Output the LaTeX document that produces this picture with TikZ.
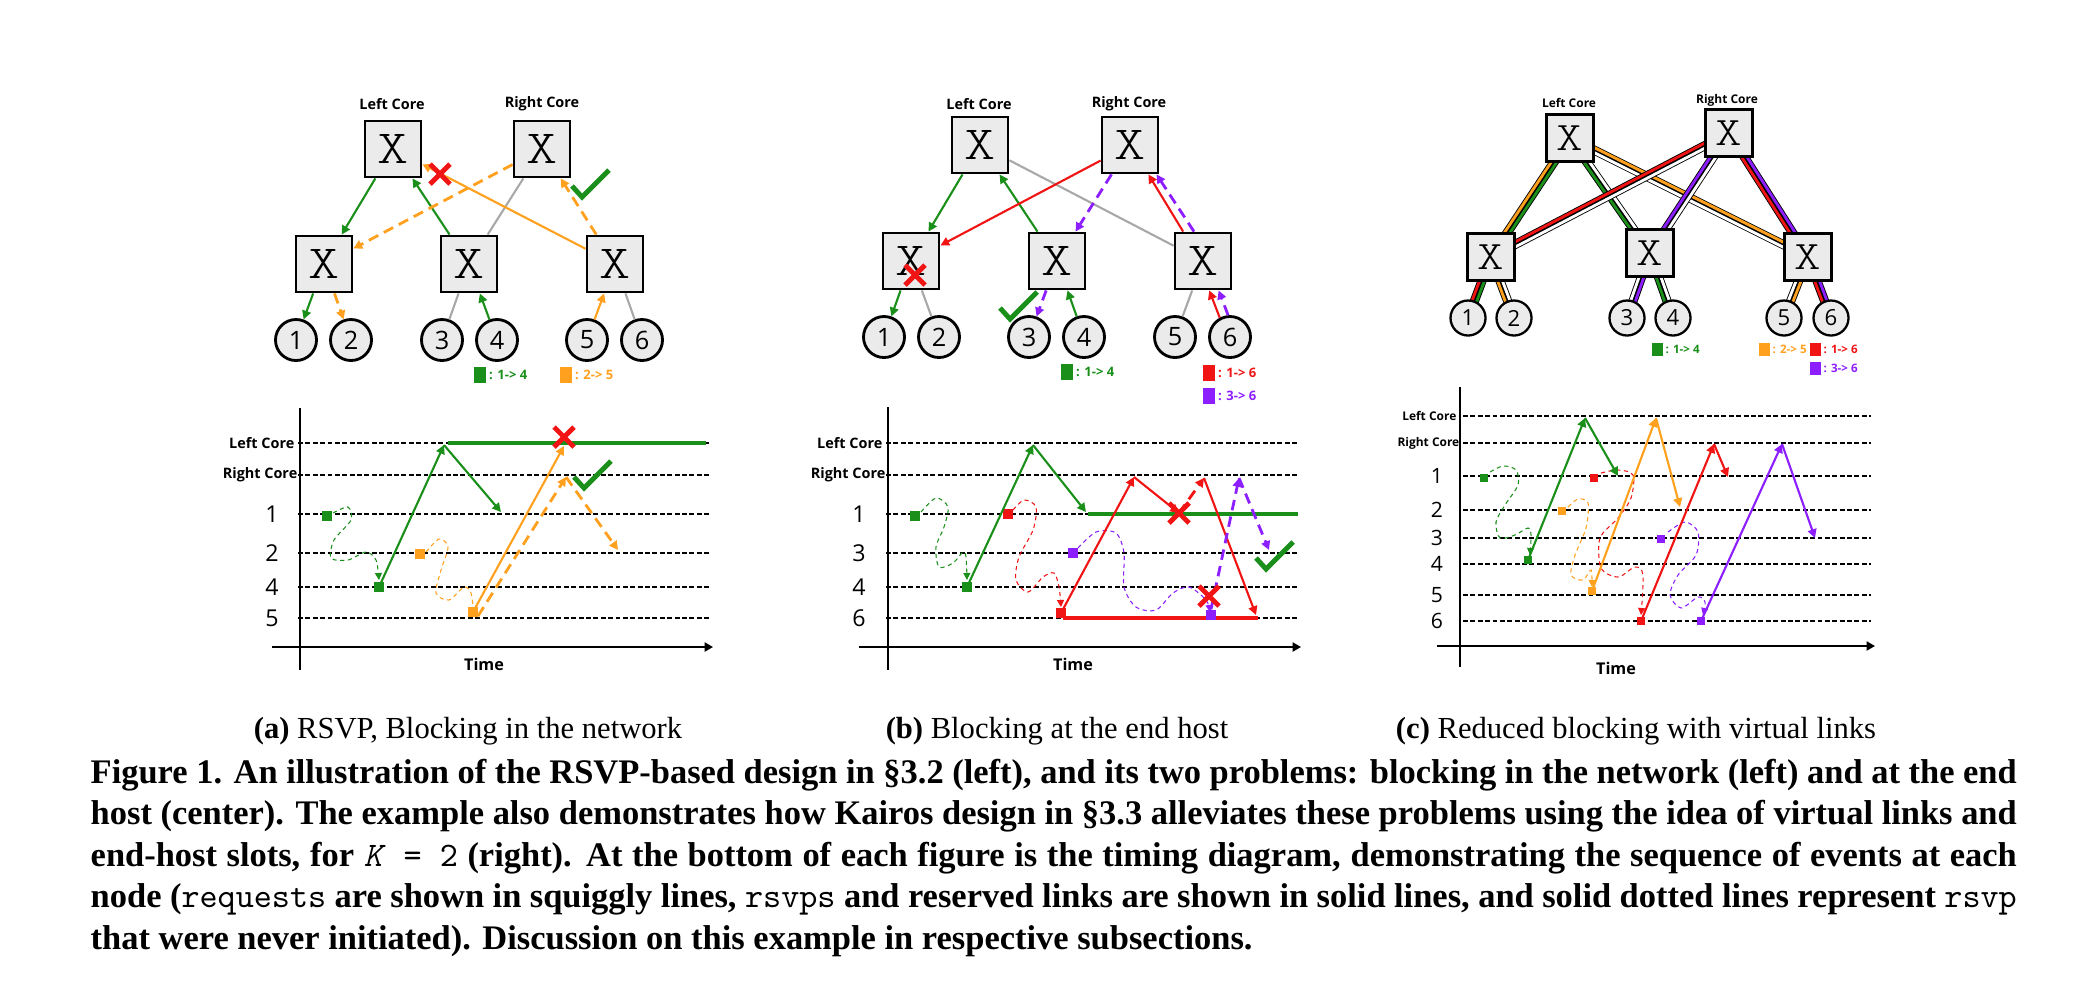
\documentclass[tikz,border=0pt]{standalone}
\usepackage{fontspec}
\setmainfont{Liberation Serif}
\setsansfont{Open Sans}
\newfontfamily\xfont[FakeStretch=1.25]{lmmonolt10-regular.otf}
\usetikzlibrary{arrows.meta, calc, backgrounds}
\definecolor{cgreen}{HTML}{1A8F1A}
\definecolor{corange}{HTML}{FFA01E}
\definecolor{cred}{HTML}{F01414}
\definecolor{cpurple}{HTML}{8C1EFF}
\definecolor{cgrey}{HTML}{A8A8A8}
\definecolor{cbox}{HTML}{EBEBEB}
\tikzset{
  sw/.style={draw, line width=0.8pt, fill=cbox, minimum size=0.56cm, inner sep=0pt, font=\xfont\fontsize{13.5}{13.5}\selectfont},
  swc/.style={sw, line width=0.65pt, minimum size=0.47cm, font=\xfont\fontsize{11.5}{11.5}\selectfont},
  host/.style={circle, draw, line width=0.8pt, fill=cbox, minimum size=0.41cm, inner sep=0pt, font=\sffamily\fontsize{7.2}{7.2}\selectfont},
  hostc/.style={host, line width=0.65pt, minimum size=0.35cm, font=\sffamily\fontsize{6.3}{6.3}\selectfont},
  corelbl/.style={font=\sffamily\bfseries\fontsize{4.1}{5}\selectfont, inner sep=0pt},
  corelblc/.style={corelbl, font=\sffamily\bfseries\fontsize{3.4}{4}\selectfont},
  arr/.style={-{Triangle[length=2.5pt,width=2.5pt]}, line width=0.6pt},
  dasharr/.style={arr, line width=0.8pt, dash pattern=on 3pt off 1.8pt},
  greylink/.style={cgrey, line width=0.6pt},
  slotline/.style={dash pattern=on 1.4pt off 0.7pt, line width=0.35pt},
  taxis/.style={line width=0.55pt},
  squig/.style={dash pattern=on 1.2pt off 1pt, line width=0.3pt},
  sqarr/.style={squig, -{Triangle[length=2pt,width=2pt]}},
  evt/.style={minimum size=0.1cm, inner sep=0pt},
  evtc/.style={minimum size=0.08cm, inner sep=0pt},
  reserved/.style={line width=1.4pt},
  keybox/.style={minimum width=0.12cm, minimum height=0.16cm, inner sep=0pt},
  keyboxc/.style={minimum width=0.11cm, minimum height=0.13cm, inner sep=0pt},
  keytxt/.style={font=\sffamily\bfseries\fontsize{3.7}{4}\selectfont, inner sep=0.5pt, anchor=west},
  keytxtc/.style={keytxt, font=\sffamily\bfseries\fontsize{3.3}{4}\selectfont},
  rowlbl/.style={font=\sffamily\bfseries\fontsize{4.1}{5}\selectfont, inner sep=0pt, anchor=east},
  rowlblc/.style={rowlbl, font=\sffamily\bfseries\fontsize{3.4}{4}\selectfont},
  rownum/.style={font=\sffamily\fontsize{6.6}{7}\selectfont, inner sep=0pt},
  rownumc/.style={rownum, font=\sffamily\fontsize{6}{7}\selectfont},
  timelbl/.style={font=\sffamily\bfseries\fontsize{4.6}{5}\selectfont, inner sep=0pt},
  subcap/.style={font=\fontsize{8.7}{10}\selectfont, inner sep=0pt, anchor=base},
  captxt/.style={text width=19.25cm, align=justify, inner sep=0pt, font=\fontsize{9.8}{11.8}\selectfont\bfseries},
  blockx/.pic={\draw[cred, line width=1.4pt] (-10,-10) -- (10,10) (-10,10) -- (10,-10);},
  okcheck/.pic={\draw[cgreen, line width=1.4pt] (-10,-11) -- (0,0) -- (27,-27);},
}
% two parallel lanes of a virtual link: from, to, lane at +90, lane at -90
\newcommand\vlink[4]{%
  \draw[line width=1.3pt] ($(#1)!0.65pt!90:(#2)$) -- ($(#2)!0.65pt!-90:(#1)$)
    ($(#1)!0.65pt!-90:(#2)$) -- ($(#2)!0.65pt!90:(#1)$);
  \draw[#3, line width=0.8pt] ($(#1)!0.65pt!90:(#2)$) -- ($(#2)!0.65pt!-90:(#1)$);
  \draw[#4, line width=0.8pt] ($(#1)!0.65pt!-90:(#2)$) -- ($(#2)!0.65pt!90:(#1)$);
}
\newcommand\code[1]{{\mdseries\ttfamily #1}}

\begin{document}
\begin{tikzpicture}[x=0.01cm, y=-0.01cm]
  \useasboundingbox (0,0) rectangle (2073,999);

  % (a) network
  \node[corelbl] (alcl) at (392,104) {Left Core};
  \node[corelbl] (arcl) at (542,104) {Right Core};
  \node[sw] (alc) at (393,149) {X};
  \node[sw] (arc) at (542,149) {X};
  \node[sw] (aa1) at (324,264) {X};
  \node[sw] (aa2) at (469,264) {X};
  \node[sw] (aa3) at (615,264) {X};
  \foreach \n/\x in {1/296, 2/351, 3/442, 4/497, 5/587, 6/642}
    \node[host] (ah\n) at (\x,340) {\n};
  \draw[greylink] (arc) -- (aa2);
  \draw[greylink] (ah3) -- (aa2);
  \draw[greylink] (ah6) -- (aa3);
  \draw[arr, cgreen] (alc) -- (aa1);
  \draw[arr, cgreen] (aa2) -- (alc);
  \draw[arr, cgreen] (aa1) -- (ah1);
  \draw[arr, cgreen] (ah4) -- (aa2);
  \draw[dasharr, corange] (arc) -- (aa1);
  \draw[dasharr, corange] (aa3) -- (arc);
  \draw[dasharr, corange] (aa1) -- (ah2);
  \draw[arr, corange] (aa3) -- (alc);
  \draw[arr, corange] (ah5) -- (aa3);
  \pic at (440,174) {blockx};
  \pic at (582,197) {okcheck};
  \node[keybox, fill=cgreen] (akey1) at (480,375) {};
  \node[keytxt, text=cgreen] (akeyt1) at (akey1.east) {: 1-> 4};
  \node[keybox, fill=corange] (akey2) at (566,375) {};
  \node[keytxt, text=corange] (akeyt2) at (akey2.east) {: 2-> 5};

  % (a) timing
  \foreach \y in {443,475,514,553,587,618}
    \draw[slotline] (298,\y) -- (709,\y);
  \draw[taxis] (300,408) -- (300,670);
  \draw[taxis, -{Triangle[length=2.4pt,width=2.6pt]}] (272,647) -- (713,647);
  \node[timelbl] (atime) at (484,664) {Time};
  \node[rowlbl] (arow0) at (295,443) {Left Core};
  \node[rowlbl] (arow00) at (298,475) {Right Core};
  \foreach \y/\t in {514/1, 553/2, 587/4, 618/5}
    \node[rownum] (arow\t) at (272,\y) {\t};
  \coordinate (agtop) at (444,445);
  \coordinate (agend) at (501,512);
  \coordinate (agres) at (706,443);
  \coordinate (aotop) at (564,446);
  \coordinate (aostart) at (478,616);
  \coordinate (aodash) at (566,477);
  \coordinate (aoend) at (618,550);
  \draw[reserved, cgreen] (448,443) -- (agres);
  \draw[sqarr, cgreen] plot[smooth] coordinates {(333,513) (348,507) (351,520) (334,540) (331,558) (348,560) (366,552) (376,560) (379,580)};
  \draw[squig, corange] plot[smooth] coordinates {(426,552) (439,539) (448,547) (441,570) (436,593) (449,600) (464,587) (471,593) (473,607)};
  \node[evt, fill=cgreen] (ag1) at (327,516) {};
  \node[evt, fill=cgreen] (ag2) at (379,587) {};
  \node[evt, fill=corange] (ao1) at (420,554) {};
  \node[evt, fill=corange] (ao2) at (473,612) {};
  \draw[arr, cgreen] (ag2.center) -- (agtop);
  \draw[arr, cgreen] (agtop) -- (agend);
  \draw[arr, corange] (ao2.center) -- (aotop);
  \draw[dasharr, corange] (aostart) -- (aodash);
  \draw[dasharr, corange] (aodash) -- (aoend);
  \pic at (564,437) {blockx};
  \pic at (584,488) {okcheck};

  % (b) network
  \node[corelbl] (blcl) at (979,104) {Left Core};
  \node[corelbl] (brcl) at (1129,104) {Right Core};
  \node[sw] (blc) at (980,145) {X};
  \node[sw] (brc) at (1130,145) {X};
  \node[sw] (bb1) at (911,261) {X};
  \node[sw] (bb2) at (1057,261) {X};
  \node[sw] (bb3) at (1203,261) {X};
  \foreach \n/\x in {1/884, 2/939, 3/1029, 4/1084, 5/1175, 6/1230}
    \node[host] (bh\n) at (\x,337) {\n};
  \draw[greylink] (blc) -- (bb3);
  \draw[greylink] (bb1) -- (bh2);
  \draw[greylink] (bh5) -- (bb3);
  \draw[arr, cgreen] (blc) -- (bb1);
  \draw[arr, cgreen] (bb2) -- (blc);
  \draw[arr, cgreen] (bb1) -- (bh1);
  \draw[arr, cgreen] (bh4) -- (bb2);
  \draw[arr, cred] (brc) -- (bb1);
  \draw[arr, cred] (bb3.124) -- (brc.-58);
  \draw[dasharr, cpurple] (bb3.107) -- (brc.-48);
  \draw[dasharr, cpurple] (brc) -- (bb2);
  \draw[dasharr, cpurple] (bb2) -- (bh3);
  \draw[arr, cred] (bh6.118) -- (bb3.-78);
  \draw[dasharr, cpurple] (bh6.95) -- (bb3.-62);
  \pic at (915,275) {blockx};
  \pic at (1010,319) {okcheck};
  \node[keybox, fill=cgreen] (bkey1) at (1067,372) {};
  \node[keytxt, text=cgreen] (bkeyt1) at (bkey1.east) {: 1-> 4};
  \node[keybox, fill=cred] (bkey2) at (1209,373) {};
  \node[keytxt, text=cred] (bkeyt2) at (bkey2.east) {: 1-> 6};
  \node[keybox, fill=cpurple] (bkey3) at (1209,396) {};
  \node[keytxt, text=cpurple] (bkeyt3) at (bkey3.east) {: 3-> 6};

  % (b) timing
  \foreach \y in {443,475,514,553,587,618}
    \draw[slotline] (886,\y) -- (1298,\y);
  \draw[taxis] (888,407) -- (888,670);
  \draw[taxis, -{Triangle[length=2.4pt,width=2.6pt]}] (859,647) -- (1301,647);
  \node[timelbl] (btime) at (1073,664) {Time};
  \node[rowlbl] (brow0) at (883,443) {Left Core};
  \node[rowlbl] (brow00) at (886,475) {Right Core};
  \foreach \y/\t in {514/1, 553/3, 587/4, 618/6}
    \node[rownum] (brow\t) at (859,\y) {\t};
  \coordinate (bgtop) at (1033,445);
  \coordinate (bgend) at (1086,512);
  \coordinate (bgres) at (1298,514);
  \coordinate (brres) at (1258,618);
  \coordinate (brtop) at (1134,477);
  \coordinate (brcut) at (1179,513);
  \coordinate (brtop2) at (1204,478);
  \coordinate (brend) at (1256,615);
  \coordinate (bptop) at (1239,478);
  \coordinate (bpend) at (1269,550);
  \draw[reserved, cgreen] (1088,514) -- (bgres);
  \draw[reserved, cred] (1063,618) -- (brres);
  \draw[sqarr, cgreen] plot[smooth] coordinates {(921,512) (936,498) (948,507) (944,527) (936,547) (939,567) (953,563) (963,552) (966,557) (967,580)};
  \draw[sqarr, cred] plot[smooth] coordinates {(1013,510) (1024,500) (1036,507) (1033,530) (1019,557) (1016,580) (1028,592) (1043,577) (1054,573) (1059,587) (1061,607)};
  \draw[sqarr, cpurple] plot[smooth] coordinates {(1078,548) (1096,532) (1116,533) (1124,553) (1124,587) (1136,607) (1156,610) (1173,593) (1189,587) (1206,600) (1210,612)};
  \node[evt, fill=cgreen] (bg1) at (915,516) {};
  \node[evt, fill=cgreen] (bg2) at (967,587) {};
  \node[evt, fill=cred] (br1) at (1008,514) {};
  \node[evt, fill=cred] (br2) at (1061,613) {};
  \node[evt, fill=cpurple] (bp1) at (1073,553) {};
  \node[evt, fill=cpurple] (bp2) at (1211,615) {};
  \draw[arr, cgreen] (bg2.center) -- (bgtop);
  \draw[arr, cgreen] (bgtop) -- (bgend);
  \draw[arr, cred] (br2.center) -- (brtop);
  \draw[arr, cred] (brtop) -- (brcut);
  \draw[dasharr, cred] (brcut) -- (brtop2);
  \draw[arr, cred] (brtop2) -- (brend);
  \draw[dasharr, cpurple] (bp2.north) -- (bptop);
  \draw[dasharr, cpurple] (bptop) -- (bpend);
  \pic at (1179,513) {blockx};
  \pic at (1209,596) {blockx};
  \pic at (1266,569) {okcheck};

  % (c) network
  \node[corelblc] (clcl) at (1569,103) {Left Core};
  \node[corelblc] (crcl) at (1727,100) {Right Core};
  \node[swc] (clc) at (1570,138) {X};
  \node[swc] (crc) at (1729,133) {X};
  \node[swc] (cb1) at (1491,257) {X};
  \node[swc] (cb2) at (1650,253) {X};
  \node[swc] (cb3) at (1808,257) {X};
  \foreach \n/\x in {1/1468, 2/1514, 3/1627, 4/1673, 5/1784, 6/1831}
    \node[hostc] (ch\n) at (\x,318) {\n};
  \begin{scope}[on background layer]
    \vlink{clc}{cb2}{white}{cgreen}
    \vlink{clc}{cb3}{corange}{white}
    \vlink{crc}{cb1}{white}{cred}
    \vlink{crc}{cb2}{white}{cpurple}
    \vlink{clc}{cb1}{cgreen}{corange}
    \vlink{crc}{cb3}{cpurple}{cred}
    \vlink{cb1}{ch1}{cgreen}{cred}
    \vlink{cb1}{ch2}{white}{corange}
    \vlink{cb2}{ch3}{cpurple}{white}
    \vlink{cb2}{ch4}{white}{cgreen}
    \vlink{cb3}{ch5}{corange}{white}
    \vlink{cb3}{ch6}{cpurple}{cred}
  \end{scope}
  \node[keyboxc, fill=cgreen] (ckey1) at (1657,349) {};
  \node[keytxtc, text=cgreen] (ckeyt1) at (ckey1.east) {: 1-> 4};
  \node[keyboxc, fill=corange] (ckey2) at (1764,349) {};
  \node[keytxtc, text=corange] (ckeyt2) at (ckey2.east) {: 2-> 5};
  \node[keyboxc, fill=cred] (ckey3) at (1815,349) {};
  \node[keytxtc, text=cred] (ckeyt3) at (ckey3.east) {: 1-> 6};
  \node[keyboxc, fill=cpurple] (ckey4) at (1815,368) {};
  \node[keytxtc, text=cpurple] (ckeyt4) at (ckey4.east) {: 3-> 6};

  % (c) timing
  \foreach \y in {416,443,476,510,538,564,595,621}
    \draw[slotline] (1463,\y) -- (1871,\y);
  \draw[taxis] (1460,387) -- (1460,667);
  \draw[taxis, -{Triangle[length=2.4pt,width=2.6pt]}] (1437,646) -- (1875,646);
  \node[timelbl] (ctime) at (1616,668) {Time};
  \node[rowlblc] (crow0) at (1457,416) {Left Core};
  \node[rowlblc] (crow00) at (1460,443) {Right Core};
  \foreach \y/\t in {476/1, 510/2, 538/3, 564/4, 595/5, 621/6}
    \node[rownumc] (crow\t) at (1437,\y) {\t};
  \coordinate (cgtop) at (1585,418);
  \coordinate (cgend) at (1618,476);
  \coordinate (cotop) at (1656,418);
  \coordinate (coend) at (1680,507);
  \coordinate (crtop) at (1714,444);
  \coordinate (crend) at (1728,477);
  \coordinate (cptop) at (1782,444);
  \coordinate (cpend) at (1815,538);
  \draw[sqarr, cgreen] plot[smooth] coordinates {(1490,472) (1503,466) (1516,470) (1518,485) (1505,505) (1496,522) (1500,538) (1515,535) (1528,528) (1531,535) (1530,555)};
  \draw[sqarr, cred] plot[smooth] coordinates {(1601,473) (1618,470) (1633,475) (1631,498) (1618,518) (1600,538) (1601,568) (1618,577) (1635,567) (1643,575) (1641,615)};
  \draw[sqarr, corange] plot[smooth] coordinates {(1568,507) (1578,499) (1588,503) (1586,528) (1575,555) (1571,575) (1583,580) (1591,570) (1592,587)};
  \draw[sqarr, cpurple] plot[smooth] coordinates {(1668,532) (1685,522) (1698,532) (1696,555) (1678,575) (1670,595) (1681,608) (1698,597) (1705,602) (1703,615)};
  \node[evtc, fill=cgreen] (cg1) at (1484,478) {};
  \node[evtc, fill=cgreen] (cg2) at (1528,560) {};
  \node[evtc, fill=cred] (cr1) at (1594,478) {};
  \node[evtc, fill=cred] (cr2) at (1641,621) {};
  \node[evtc, fill=corange] (co1) at (1562,511) {};
  \node[evtc, fill=corange] (co2) at (1592,591) {};
  \node[evtc, fill=cpurple] (cp1) at (1661,539) {};
  \node[evtc, fill=cpurple] (cp2) at (1701,621) {};
  \draw[arr, cgreen] (cg2.center) -- (cgtop);
  \draw[arr, cgreen] (cgtop) -- (cgend);
  \draw[arr, corange] (co2.center) -- (cotop);
  \draw[arr, corange] (cotop) -- (coend);
  \draw[arr, cred] (cr2.center) -- (crtop);
  \draw[arr, cred] (crtop) -- (crend);
  \draw[arr, cpurple] (cp2.center) -- (cptop);
  \draw[arr, cpurple] (cptop) -- (cpend);

  % captions
  \node[subcap] (suba) at (468,738) {\textbf{(a)} RSVP, Blocking in the network};
  \node[subcap] (subb) at (1057,738) {\textbf{(b)} Blocking at the end host};
  \node[subcap] (subc) at (1636,738) {\textbf{(c)} Reduced blocking with virtual links};
  \node[captxt, anchor=base west] (cap) at (90,783) {Figure 1. An illustration of the RSVP-based design in §3.2 (left), and its two problems: blocking in the network (left) and at the end\linebreak
    host (center). The example also demonstrates how Kairos design in §3.3 alleviates these problems using the idea of virtual links and\linebreak
    end-host slots, for \code{\textit{K} = 2} (right). At the bottom of each figure is the timing diagram, demonstrating the sequence of events at each\linebreak
    node (\code{requests} are shown in squiggly lines, \code{rsvps} and reserved links are shown in solid lines, and solid dotted lines represent \code{rsvp}\linebreak
    that were never initiated). Discussion on this example in respective subsections.};
\end{tikzpicture}
\end{document}
